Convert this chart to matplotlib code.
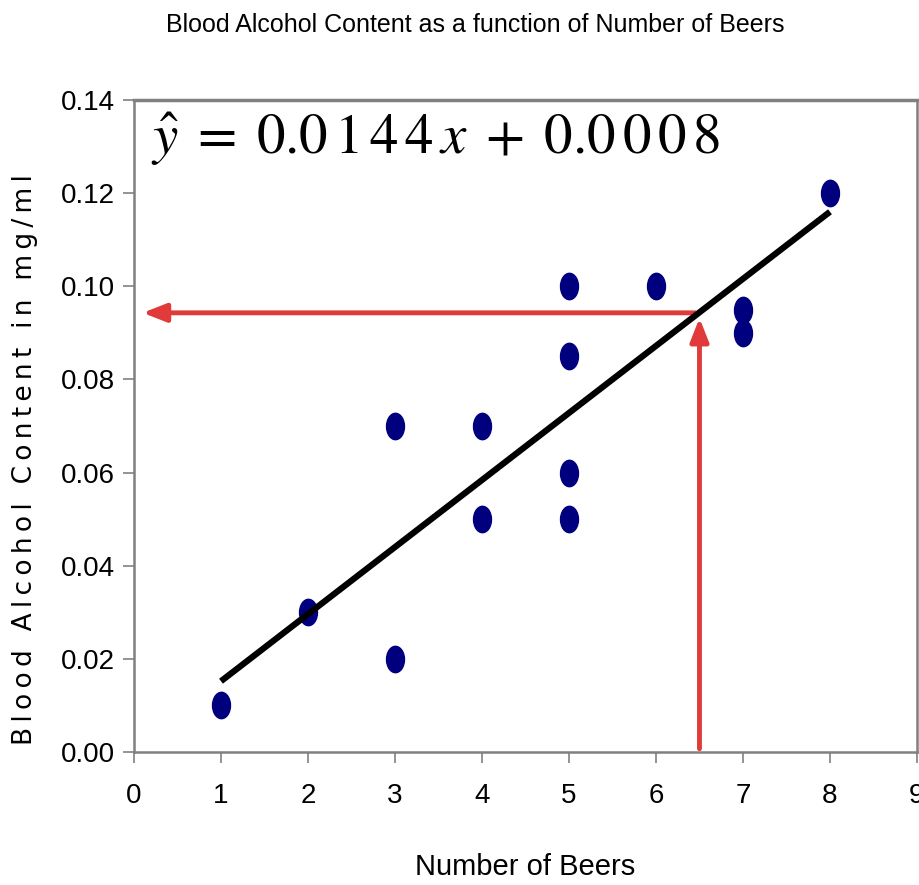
import numpy as np
import matplotlib
matplotlib.use("Agg")
import matplotlib.pyplot as plt
from matplotlib.path import Path
from matplotlib.transforms import Affine2D

beers = [1, 2, 3, 3, 4, 4, 5, 5, 5, 5, 6, 7, 7, 8]
bac = [0.010, 0.030, 0.070, 0.020, 0.070, 0.050, 0.100, 0.085, 0.060, 0.050,
       0.100, 0.095, 0.090, 0.120]

slope = 0.0144
intercept = 0.0008
line_x = [1, 8]

# prediction arrows (x = 6.5 beers)
x_pred = 6.45
y_pred = 0.0943

xticks = [0, 1, 2, 3, 4, 5, 6, 7, 8, 9]
yticks = [0.00, 0.02, 0.04, 0.06, 0.08, 0.10, 0.12, 0.14]

narrow = ['Liberation Sans', 'DejaVu Sans']
plt.rcParams['mathtext.fontset'] = 'stix'

fig = plt.figure(figsize=(9.19, 8.85), dpi=100)
ax = fig.add_axes([0.1458, 0.1503, 0.852, 0.7367])

ell = Path.unit_circle().transformed(Affine2D().scale(0.68, 1.0))
ax.plot(beers, bac, linestyle='none', marker=ell, markersize=19,
        color='#00007f', zorder=3)

line_y = [slope * v + intercept for v in line_x]
ax.plot(line_x, line_y, color='black', lw=4.5, solid_capstyle='butt', zorder=4)

red = '#e03a3a'
ax.annotate('', xy=(0.1, y_pred), xytext=(x_pred, y_pred),
            arrowprops=dict(arrowstyle='-|>,head_length=1.4,head_width=0.55',
                            color=red, lw=3.5, shrinkA=0, shrinkB=0), zorder=2)
ax.annotate('', xy=(6.5, 0.0932), xytext=(6.5, 0.0007),
            arrowprops=dict(arrowstyle='-|>,head_length=1.4,head_width=0.55',
                            color=red, lw=3.5, shrinkA=0, shrinkB=0), zorder=2)

eq = r'$\hat{y}\;=\;0.0\,1\,4\,4\,x\;+\;0.0\,0\,0\,8$'
ax.text(0.2, 0.1283, eq, fontsize=41, ha='left', va='baseline')

ax.set_xlim(0, 9)
ax.set_ylim(0, 0.14)
ax.set_xticks(xticks)
ax.set_yticks(yticks)
ax.set_xticklabels([str(v) for v in xticks], family=narrow, fontsize=20)
ax.set_yticklabels(['%.2f' % v for v in yticks], family=narrow, fontsize=20)
ax.tick_params(direction='out', length=8, width=1.2, color='#808080', pad=6)
ax.tick_params(axis='x', pad=14)
for side in ['left', 'bottom', 'right', 'top']:
    ax.spines[side].set_color('#808080')
    ax.spines[side].set_linewidth(1.8)
ax.spines['top'].set_linewidth(2.5)

ax.set_xlabel('Number of Beers', family=narrow, fontsize=21, labelpad=32)

ylab = 'Blood Alcohol Content in mg/ml'
ylab_spaced = '\u2009'.join(ylab)
fig.text(25 / 919, 1 - 460 / 885, ylab_spaced, rotation=90, fontsize=19,
         ha='center', va='center')
fig.text(0.517, 0.972, 'Blood Alcohol Content as a function of Number of Beers',
         family=narrow, fontsize=18, ha='center', va='center')

fig.savefig('out.png', dpi=100)
